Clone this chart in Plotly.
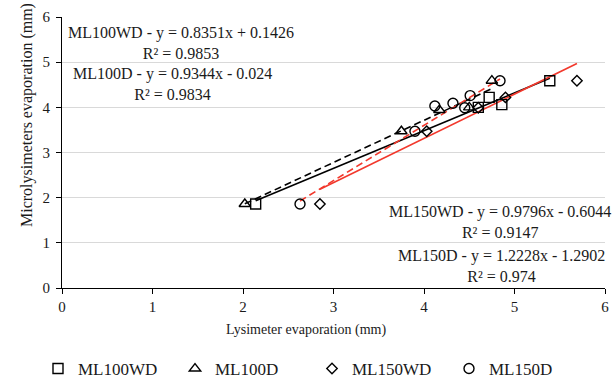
import plotly.graph_objects as go

# ---- data ----
series_names = ["ML100WD", "ML100D", "ML150WD", "ML150D"]

ml100wd_x = [2.14, 4.60, 4.72, 4.86, 5.39]
ml100wd_y = [1.86, 4.00, 4.22, 4.06, 4.59]

ml100d_x = [2.02, 3.75, 4.17, 4.50, 4.75]
ml100d_y = [1.86, 3.47, 3.94, 4.00, 4.59]

ml150wd_x = [2.85, 4.03, 4.60, 4.90, 5.69]
ml150wd_y = [1.86, 3.47, 3.99, 4.22, 4.59]

ml150d_x = [2.63, 3.90, 4.12, 4.32, 4.45, 4.51, 4.84]
ml150d_y = [1.86, 3.47, 4.03, 4.09, 3.99, 4.26, 4.59]

# trendline equations as printed on the chart
slopes = [0.8351, 0.9344, 0.9796, 1.2228]
intercepts = [0.1426, -0.024, -0.6044, -1.2902]
r2_values = ["0.9853", "0.9834", "0.9147", "0.974"]

x_ticks = [0, 1, 2, 3, 4, 5, 6]
y_ticks = [0, 1, 2, 3, 4, 5, 6]

# ---- styling ----
FONT = "Liberation Serif"
TXT = "#1a1a1a"
RED = "#f2382c"
symbols = ["square-open", "triangle-up-open", "diamond-open", "circle-open"]
msizes = [10, 10, 8, 10]
line_colors = ["black", "black", RED, RED]
line_dash = ["solid", "7px,4px", "solid", "7px,4px"]

xs = [ml100wd_x, ml100d_x, ml150wd_x, ml150d_x]
ys = [ml100wd_y, ml100d_y, ml150wd_y, ml150d_y]

fig = go.Figure()

# trendlines (drawn first, under markers)
for i in range(4):
    x0, x1 = min(xs[i]), max(xs[i])
    fig.add_trace(go.Scatter(
        x=[x0, x1], y=[slopes[i] * x0 + intercepts[i], slopes[i] * x1 + intercepts[i]],
        mode="lines", line=dict(color=line_colors[i], width=1.6, dash=line_dash[i]),
        showlegend=False, hoverinfo="skip"))

for i in range(4):
    fig.add_trace(go.Scatter(
        x=xs[i], y=ys[i], mode="markers", name=series_names[i],
        marker=dict(symbol=symbols[i], size=msizes[i], color="black",
                    line=dict(color="black", width=1.4))))

PL, PR, PT, PB = 62, 605, 17, 288
eq_pos = [(181, 43), (172, 84), (500, 222), (501, 266)]
annotations = []
for i in range(4):
    sign = "+" if intercepts[i] >= 0 else "-"
    txt = f"{series_names[i]} - y = {slopes[i]:.4f}x {sign} {abs(intercepts[i]):g}<br>R² = {r2_values[i]}"
    px, py = eq_pos[i]
    annotations.append(dict(
        x=(px - PL) / (PR - PL), y=(PB - py) / (PB - PT), xref="paper", yref="paper",
        text=txt, showarrow=False, align="center", xanchor="center", yanchor="middle",
        font=dict(family=FONT, size=16, color=TXT)))

annotations.append(dict(
    x=(27 - PL) / (PR - PL), y=(PB - 115) / (PB - PT), xref="paper", yref="paper",
    text="Microlysimeters evaporation (mm)", textangle=-90, showarrow=False,
    xanchor="center", yanchor="middle", font=dict(family=FONT, size=16, color=TXT)))

annotations.append(dict(
    x=(306 - PL) / (PR - PL), y=(PB - 330) / (PB - PT), xref="paper", yref="paper",
    text="Lysimeter evaporation (mm)", showarrow=False,
    xanchor="center", yanchor="middle", font=dict(family=FONT, size=14, color=TXT)))

fig.update_layout(
    width=616, height=381,
    margin=dict(l=PL, r=616 - PR, t=PT, b=381 - PB, autoexpand=False),
    paper_bgcolor="white", plot_bgcolor="white",
    font=dict(family=FONT, size=15, color=TXT),
    xaxis=dict(range=[0, 6], tickvals=x_ticks, showline=True, linecolor="black", linewidth=1,
               ticks="outside", ticklen=5, tickcolor="black", showgrid=False, zeroline=False,
               tickfont=dict(family=FONT, size=15, color=TXT)),
    yaxis=dict(range=[0, 6], tickvals=y_ticks, showline=True, linecolor="black", linewidth=1,
               ticks="outside", ticklen=5, tickcolor="black", showgrid=True,
               gridcolor="#d9d9d9", gridwidth=1, zeroline=False, ticklabelstandoff=3,
               tickfont=dict(family=FONT, size=15, color=TXT)),
    legend=dict(orientation="h", x=(38 - PL) / (PR - PL), xanchor="left",
                y=(PB - 369) / (PB - PT), yanchor="middle", entrywidth=92, itemwidth=30,
                font=dict(family=FONT, size=17, color=TXT)),
    annotations=annotations,
)

fig.write_html("out.html")
